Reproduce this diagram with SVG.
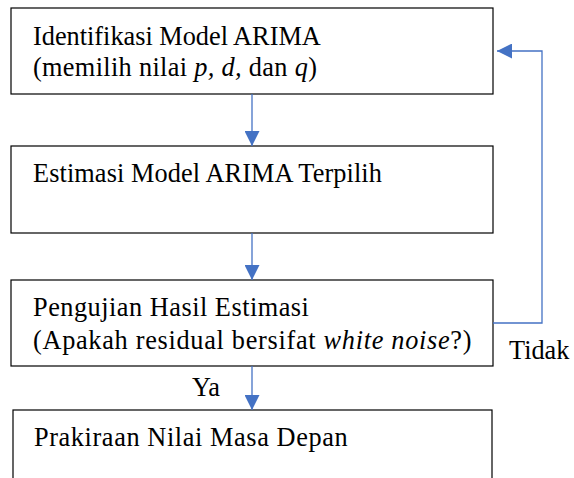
<svg xmlns="http://www.w3.org/2000/svg" width="574" height="478" viewBox="0 0 574 478">
<style>
.box{fill:#fff;stroke:#000;stroke-width:1.2}
.t{font-family:"Liberation Serif","Times New Roman",serif;font-size:26.3px;fill:#000}
.i{font-style:italic}
.c{fill:none;stroke:#4472C4;stroke-width:1.3}
</style>
<defs>
<marker id="ah" markerWidth="15" markerHeight="15" refX="15" refY="7.5" orient="auto" markerUnits="userSpaceOnUse" viewBox="0 0 15 15">
<path d="M0,0 L15,7.5 L0,15 Z" fill="#4472C4"/>
</marker>
</defs>
<rect width="574" height="478" fill="#fff"/>
<g id="n1">
<rect class="box" x="11" y="8" width="482" height="86"/>
<text class="t" x="33" y="45">Identifikasi Model ARIMA</text>
<text class="t" x="33" y="76" letter-spacing="0.33">(memilih nilai <tspan class="i">p, d,</tspan> dan <tspan class="i">q</tspan>)</text>
</g>
<g id="n2">
<rect class="box" x="11" y="146" width="482" height="87"/>
<text class="t" x="33" y="182" letter-spacing="0.1">Estimasi Model ARIMA Terpilih</text>
</g>
<g id="n3">
<rect class="box" x="11" y="280" width="482" height="86"/>
<text class="t" x="33" y="316" letter-spacing="0.5">Pengujian Hasil Estimasi</text>
<text class="t" x="33" y="349" letter-spacing="0.7">(Apakah residual bersifat <tspan class="i">white noise</tspan>?)</text>
</g>
<g id="n4">
<rect class="box" x="13" y="410" width="479" height="80"/>
<text class="t" x="34" y="446" letter-spacing="0.6">Prakiraan Nilai Masa Depan</text>
</g>
<g id="connectors">
<line class="c" x1="252" y1="94" x2="252" y2="146" marker-end="url(#ah)"/>
<line class="c" x1="252" y1="233" x2="252" y2="280" marker-end="url(#ah)"/>
<line class="c" x1="252" y1="366" x2="252" y2="410" marker-end="url(#ah)"/>
<polyline class="c" points="493,323 542,323 542,51 497,51" marker-end="url(#ah)"/>
<text class="t" x="192" y="396">Ya</text>
<text class="t" x="509" y="359">Tidak</text>
</g>
</svg>
